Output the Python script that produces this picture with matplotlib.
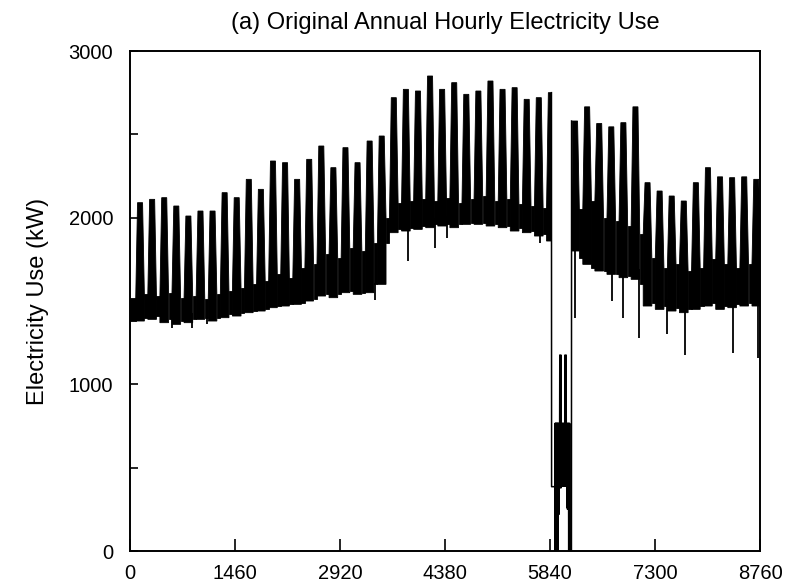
import numpy as np
import matplotlib
matplotlib.use("Agg")
import matplotlib.pyplot as plt
from matplotlib.ticker import MultipleLocator

# === weekly envelope of the hourly load (kW)
# block i = weekday block starting at hour 80 + 168*i, then a 48 h weekend
week_peak = [2090, 2110, 2120, 2070, 2010, 2040, 2040, 2150, 2120, 2230,
             2170, 2340, 2330, 2230, 2350, 2430, 2300, 2420, 2330, 2460,
             2490, 2720, 2770, 2760, 2850, 2770, 2810, 2740, 2760, 2820,
             2770, 2780, 2710, 2720, 2750, np.nan, 2580, 2665, 2565, 2545,
             2570, 2665, 2210, 2160, 2130, 2100, 2210, 2300, 2245, 2240,
             2245, 2230]
week_wd_low = [1380, 1390, 1370, 1360, 1370, 1390, 1380, 1400, 1410, 1430,
               1440, 1460, 1470, 1480, 1500, 1530, 1520, 1550, 1540, 1550,
               1600, 1910, 1920, 1930, 1940, 1950, 1940, 1960, 1960, 1950,
               1940, 1920, 1910, 1890, 1860, np.nan, 1800, 1720, 1680, 1660,
               1640, 1630, 1470, 1450, 1440, 1430, 1450, 1470, 1450, 1460,
               1470, 1470]
week_we_top = [1540, 1530, 1550, 1520, 1530, 1510, 1540, 1560, 1580, 1600,
               1620, 1660, 1640, 1700, 1720, 1780, 1760, 1820, 1800, 1850,
               2000, 2090, 2100, 2110, 2100, 2120, 2090, 2110, 2130, 2100,
               2110, 2080, 2070, 2060, np.nan, np.nan, 2050, 2100, 2000, 1980,
               1950, 1900, 1760, 1700, 1720, 1680, 1700, 1750, 1720, 1700,
               1720, 1700]
week_we_low = [1400, 1410, 1390, 1380, 1390, 1400, 1400, 1420, 1430, 1440,
               1450, 1470, 1480, 1490, 1510, 1540, 1540, 1560, 1550, 1600,
               1850, 1930, 1940, 1950, 1960, 1960, 1960, 1970, 1970, 1960,
               1950, 1940, 1920, 1900, np.nan, np.nan, 1760, 1700, 1680, 1660,
               1650, 1600, 1490, 1470, 1460, 1450, 1470, 1490, 1470, 1480,
               1490, 1480]
lead_low, lead_top = 1380, 1520   # hours 0-80

# outage period (hour, kW)
outage_hours = [5860, 5862, 5906, 5907, 5910, 5913, 5916, 5919, 5922, 5925,
                5928, 5931, 5934, 5937, 5940, 5943, 5946, 5949, 5952, 5956,
                5960, 5964, 5968, 5972, 5976, 5980, 5984, 5988, 5992, 5996,
                6000, 6004, 6008, 6012, 6016, 6020, 6024, 6028, 6032, 6036,
                6040, 6044, 6048, 6052, 6056, 6060, 6064, 6068, 6072, 6076,
                6080, 6084, 6088, 6092, 6096, 6100, 6104, 6108, 6112, 6116,
                6138, 6140]
outage_kw = [2750, 386, 386, 0, 766, 0, 766, 0, 766, 0,
             766, 100, 766, 0, 766, 200, 766, 0, 766, 300,
             766, 220, 766, 380, 1176, 380, 766, 380, 1176, 380,
             766, 390, 766, 390, 766, 390, 766, 390, 766, 390,
             766, 390, 1176, 390, 766, 390, 1176, 390, 766, 260,
             766, 250, 766, 250, 766, 0, 766, 0, 766, 0,
             0, 2580]

# isolated low spikes (hour, kW)
spike_hours = [584, 862, 1070, 3406, 3864, 4240, 4406, 5699,
               6186, 6700, 6853, 7075, 7464, 7715, 8382, 8729]
spike_kw = [1340, 1340, 1360, 1506, 1740, 1820, 1880, 1850,
            1400, 1500, 1400, 1280, 1300, 1176, 1190, 1160]

x_ticks = [0, 1460, 2920, 4380, 5840, 7300, 8760]

plt.rcParams['font.family'] = ['Liberation Sans', 'DejaVu Sans']

fig = plt.figure(figsize=(7.95, 5.87), dpi=100)
ax = fig.add_axes([0.1635, 0.0613, 0.7925, 0.8518])

out_start, out_end = outage_hours[0], outage_hours[-1]
ramp = 25  # hours for the rise / fall of a weekday block


def clip_x(xs):
    # push vertices out of the outage window
    xs = np.array(xs, dtype=float)
    mid = (out_start + out_end) / 2
    inside = (xs > out_start) & (xs < out_end)
    xs[inside & (xs <= mid)] = out_start
    xs[inside & (xs > mid)] = out_end
    return xs


def draw_poly(xs, ys):
    xs = clip_x(xs)
    if np.ptp(xs) <= 0:
        return
    ax.fill(xs, ys, color='black', lw=0.6, ec='black')


# leading weekend
draw_poly([0, 80, 80, 0], [lead_low, lead_low, lead_top, lead_top])

for i in range(len(week_peak)):
    s = 80 + 168 * i
    e = s + 120
    pk, lo = week_peak[i], week_wd_low[i]
    if not np.isnan(pk):
        bl = lead_top if i == 0 else week_we_top[i - 1]
        br = week_we_top[i]
        if np.isnan(bl):
            bl = lo
        if np.isnan(br):
            br = lo
        draw_poly([s, s, s + ramp, e - ramp, e, e],
                  [lo, bl, pk, pk, br, lo])
    if not np.isnan(week_we_top[i]):
        draw_poly([e, s + 168, s + 168, e],
                  [week_we_low[i], week_we_low[i], week_we_top[i], week_we_top[i]])

ax.plot(outage_hours, outage_kw, color='black', lw=1.1)

spike_top = []
for h in spike_hours:
    i = int((h - 80) // 168)
    spike_top.append(week_wd_low[i] + 60)
ax.vlines(spike_hours, spike_kw, spike_top, color='black', lw=1.3)

ax.set_xlim(0, 8760)
ax.set_ylim(0, 3000)
ax.set_xticks(x_ticks)
ax.yaxis.set_major_locator(MultipleLocator(1000))
ax.yaxis.set_minor_locator(MultipleLocator(500))
ax.tick_params(axis='x', which='both', direction='in', length=9, width=1.2,
               labelsize=14.5, pad=9, top=False)
ax.tick_params(axis='y', which='both', direction='in', length=6, width=1.2,
               labelsize=14.5, pad=12, right=False)
for sp in ax.spines.values():
    sp.set_linewidth(1.4)

ax.set_ylabel("Electricity Use (kW)", fontsize=17, labelpad=14)
ax.set_title("(a) Original Annual Hourly Electricity Use", fontsize=17, pad=16)

fig.savefig("out.png", dpi=100)
